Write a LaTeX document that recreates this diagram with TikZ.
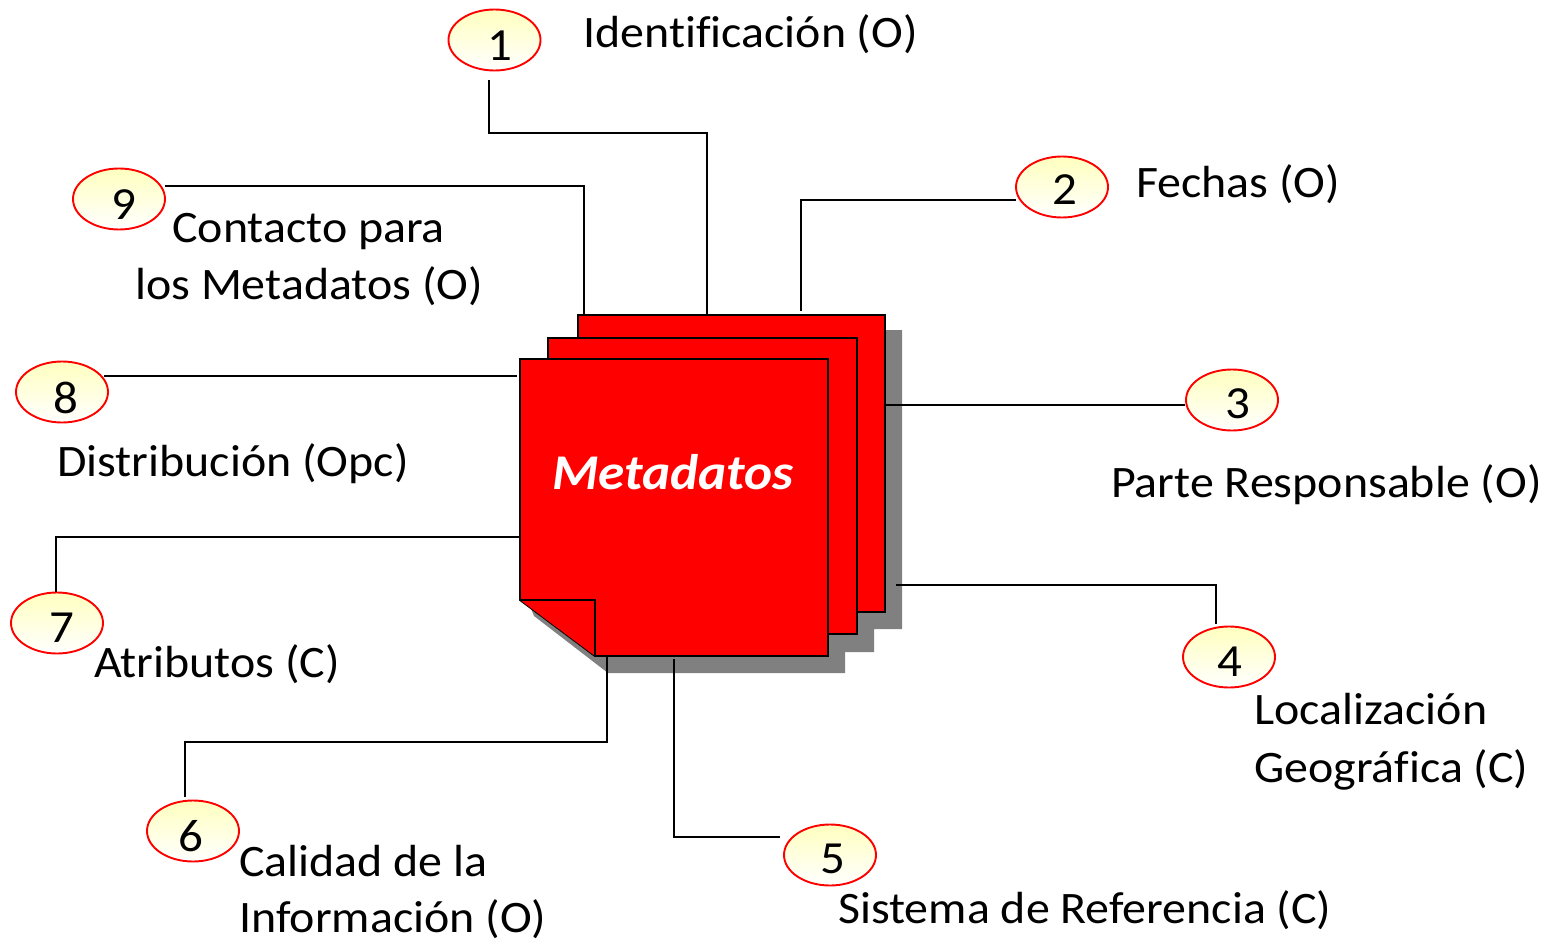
\documentclass[tikz,border=0pt]{standalone}
\usepackage{fontspec}
\setmainfont[FakeStretch=1.065,RawFeature=-liga]{Carlito}
\usetikzlibrary{shapes.geometric}
\tikzset{
  x=1pt,y=-1pt,
  bubble/.style={ellipse,draw=red,line width=1.9pt,minimum width=92pt,minimum height=61pt,inner sep=0pt,top color=yellow!25,bottom color=white},
  digit/.style={font=\fontsize{46}{46}\selectfont,inner sep=0pt,anchor=center},
  lab/.style={font=\fontsize{45}{45}\selectfont,inner sep=0pt,anchor=base west},
  sheet/.style={draw=black,line width=1.9pt,fill=red,line join=miter},
  conn/.style={draw=black,line width=1.5pt},
}
\begin{document}
\begin{tikzpicture}
\useasboundingbox (0,0) rectangle (1549,941);
% shadow and sheets
\fill[black!50] (885,330) -- (902,330) -- (902,629) -- (874,629) -- (874,652) -- (845,652) -- (845,673) -- (608,673) -- (534,616) -- (530,606) -- cycle;
\draw[sheet] (578,315) rectangle (885,612);
\draw[sheet] (548,338) -- (857,338) -- (857,634) -- (650,634) -- (650,600) -- (548,600) -- cycle;
\draw[sheet] (520,359) -- (828,359) -- (828,656) -- (595,656) -- (520,600) -- cycle;
\draw[sheet] (520,600) -- (595,600) -- (595,656);
\node[inner sep=0pt,text=white,font=\fontsize{50}{50}\selectfont\bfseries\itshape] (title) at (673,472) {Metadatos};
% end points on the sheets
\coordinate (p1) at (707,315);
\coordinate (p2) at (801,311);
\coordinate (p3) at (886,405);
\coordinate (p4) at (896,585);
\coordinate (p5) at (674,659);
\coordinate (p6) at (607,657);
\coordinate (p7) at (520,537);
\coordinate (p8) at (517,376);
\coordinate (p9) at (584,315);
% bubbles
\node[bubble] (e1) at (494.5,40) {};
\node[bubble] (e2) at (1062,187) {};
\node[bubble] (e3) at (1232,400) {};
\node[bubble] (e4) at (1229,657) {};
\node[bubble] (e5) at (830,855) {};
\node[bubble] (e6) at (193,831) {};
\node[bubble] (e7) at (57,623) {};
\node[bubble] (e8) at (62,392) {};
\node[bubble] (e9) at (119,199) {};
\node[digit] (d1) at (500,46) {1};
\node[digit] (d2) at (1065,190) {2};
\node[digit] (d3) at (1238,404) {3};
\node[digit] (d4) at (1230,662) {4};
\node[digit] (d5) at (833,859) {5};
\node[digit] (d6) at (191,836) {6};
\node[digit] (d7) at (62,628) {7};
\node[digit] (d8) at (66,398) {8};
\node[digit] (d9) at (124,205) {9};
% free ends
\coordinate (s1) at (489,80);
\coordinate (s2) at (1016,200);
\coordinate (s3) at (1185,405);
\coordinate (s4) at (1216,624);
\coordinate (s5) at (780,837);
\coordinate (s6) at (185,797);
\coordinate (s7) at (56,592);
\coordinate (s8) at (104,376);
\coordinate (s9) at (165,186);
% connectors
\draw[conn] (s1) -- (489,133) -- (707,133) -- (p1);
\draw[conn] (s2) -- (801,200) -- (p2);
\draw[conn] (s3) -- (p3);
\draw[conn] (s4) -- (1216,585) -- (p4);
\draw[conn] (s5) -- (674,837) -- (p5);
\draw[conn] (s6) -- (185,742) -- (607,742) -- (p6);
\draw[conn] (s7) -- (56,537) -- (p7);
\draw[conn] (s8) -- (p8);
\draw[conn] (s9) -- (584,186) -- (p9);
% labels
\node[lab] (l1) at (583,48) {Identificación (O)};
\node[lab] (l2) at (1136,198) {Fechas (O)};
\node[lab] (l3) at (1111,497) {Parte Responsable (O)};
\node[lab] (l4a) at (1254,724) {Localización};
\node[lab] (l4b) at (1254,782) {Geográfica (C)};
\node[lab] (l5) at (838,923) {Sistema de Referencia (C)};
\node[lab] (l6a) at (239,876) {Calidad de la};
\node[lab] (l6b) at (239,932) {Información (O)};
\node[lab] (l7) at (94,677) {Atributos (C)};
\node[lab] (l8) at (57,476) {Distribución (Opc)};
\node[lab] (l9a) at (172,243) {Contacto para};
\node[lab] (l9b) at (135,299) {los Metadatos (O)};
\end{tikzpicture}
\end{document}
